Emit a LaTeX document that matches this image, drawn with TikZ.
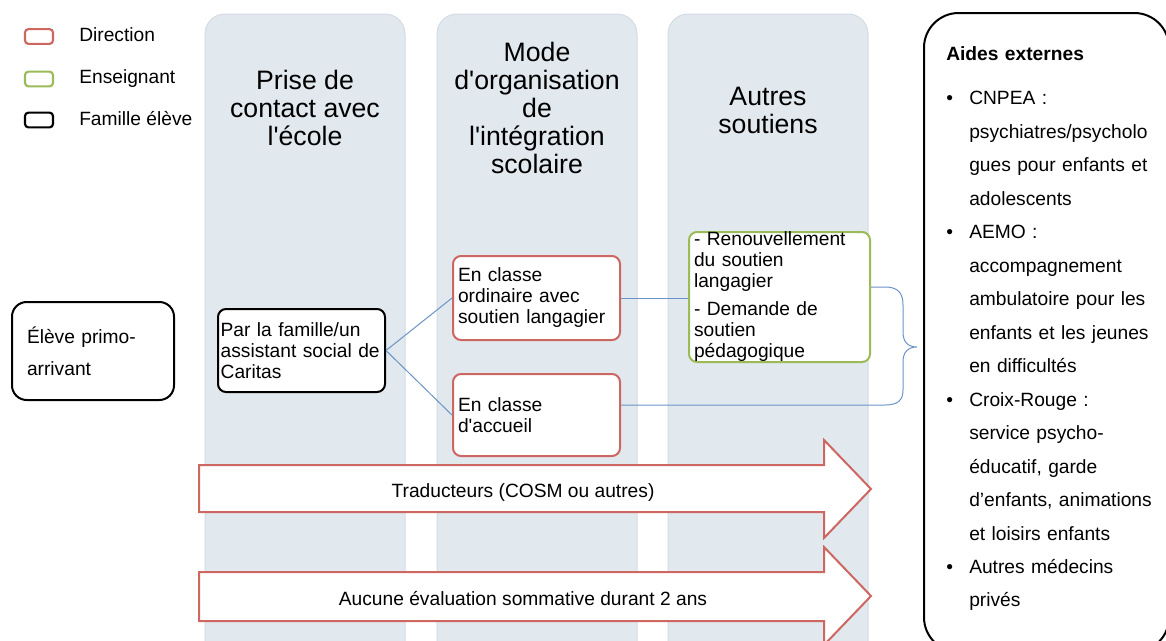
\documentclass[tikz,border=0pt]{standalone}
\usepackage{fontspec}
\setmainfont{Liberation Sans}
\usepackage{tikz}
\definecolor{colonne}{HTML}{E1E8EE}
\definecolor{bordcolonne}{HTML}{D4DBE2}
\definecolor{rougeDir}{HTML}{CD6762}
\definecolor{vertEns}{HTML}{9BBB59}
\definecolor{bleuLien}{HTML}{6A94C6}
\tikzstyle{texte}=[inner sep=0pt, font=\fontsize{14.4}{15.75}\selectfont]
\tikzstyle{titre}=[inner sep=0pt, align=center, font=\fontsize{20}{21}\selectfont]
\tikzstyle{legende}=[rectangle, rounded corners=2.5pt, line width=1.6pt,
                     minimum width=21pt, minimum height=11pt, inner sep=0pt]
\tikzstyle{boite}=[rectangle, rounded corners=6pt, line width=1.5pt, fill=white,
                   align=left, inner ysep=0pt, font=\fontsize{14.4}{15.75}\selectfont]
\tikzstyle{boitefam}=[boite, draw=black]
\tikzstyle{boitedir}=[boite, draw=rougeDir]
\tikzstyle{boiteens}=[boite, draw=vertEns]
\tikzstyle{colonnebox}=[fill=colonne, draw=bordcolonne, line width=0.75pt, rounded corners=15pt]
\tikzstyle{fleche}=[draw=rougeDir, fill=white, line width=1.5pt, line join=miter]
\tikzstyle{lien}=[draw=bleuLien, line width=0.75pt]
\newcommand{\apo}{\textquotesingle}
\newcommand{\puce}{\makebox[17.25pt][l]{\textbullet}}
\newcommand{\retrait}{\hspace*{17.25pt}}

\begin{document}
\begin{tikzpicture}[x=0.75pt,y=-0.75pt]
  \useasboundingbox (0,0) rectangle (1166,640);
  \foreach \cx in {205,437,668}
    \draw[colonnebox] (\cx,14) rectangle ++(200,680);

  \node[legende, draw=rougeDir] (legDir) at (39,36.5) {};
  \node[legende, draw=vertEns] (legEns) at (39,79) {};
  \node[legende, draw=black] (legFam) at (39,120) {};
  \node[texte, anchor=base west] (txtDir) at (79,41) {Direction};
  \node[texte, anchor=base west] (txtEns) at (79,83) {Enseignant};
  \node[texte, anchor=base west] (txtFam) at (79,125) {Famille élève};

  \node[titre] (titrePrise) at (305,108) {Prise de\\contact avec\\l\apo école};
  \node[titre] (titreMode) at (537,108) {Mode\\d\apo organisation\\de\\l\apo intégration\\scolaire};
  \node[titre] (titreAutres) at (768,110) {Autres\\soutiens};

  \draw[fleche] (199,465) -- (824,465) -- (824,440) -- (871,489) -- (824,538) -- (824,512) -- (199,512) -- cycle;
  \node[texte, anchor=base] (traducteurs) at (523,497) {Traducteurs (COSM ou autres)};
  \draw[fleche] (199,572) -- (824,572) -- (824,547) -- (871,596) -- (824,645) -- (824,621) -- (199,621) -- cycle;
  \node[texte, anchor=base] (evaluation) at (523,605) {Aucune évaluation sommative durant 2 ans};

  \node[boitefam, rounded corners=11pt, minimum width=121.5pt, minimum height=73.5pt,
        inner xsep=11.25pt, text width=99pt, font=\fontsize{14.4}{24}\selectfont]
    (eleve) at (93,351) {Élève primo-\\arrivant};
  \node[boitefam, minimum width=125.25pt, minimum height=62.25pt, inner xsep=2pt, text width=121.25pt]
    (par) at (301.5,350.5) {Par la famille/un\\\mbox{assistant social de}\\Caritas};
  \node[boitedir, minimum width=125.25pt, minimum height=63pt, inner xsep=3.75pt, text width=117.75pt]
    (ordinaire) at (536.5,298) {En classe\\ordinaire avec\\soutien langagier};
  \node[boitedir, minimum width=125.25pt, minimum height=61.5pt, inner xsep=3.75pt, text width=117.75pt]
    (accueil) at (536.5,415) {En classe\\d\apo accueil};
  \node[boiteens, minimum width=135.75pt, minimum height=97.5pt, inner xsep=3.75pt, text width=128.25pt]
    (soutiens) at (779.5,297) {- Renouvellement\\du soutien\\langagier\\[5.25pt]- Demande de\\soutien\\pédagogique};

  \coordinate (braceHaut) at (885,287);
  \coordinate (braceBas) at (885,405);
  \draw[lien] (par.east) -- (ordinaire.west);
  \draw[lien] (par.east) -- (accueil.west);
  \draw[lien] (ordinaire.east) -- (ordinaire.east -| soutiens.west);
  \draw[lien] (accueil.east |- braceBas) -- (braceBas)
    .. controls (898,405) and (903,400) .. (903,390) -- (903,362)
    .. controls (903,352) and (908,347) .. (917,347)
    .. controls (908,347) and (903,342) .. (903,332) -- (903,305)
    .. controls (903,293) and (898,287) .. (braceHaut) -- (soutiens.east |- braceHaut);

  \draw[line width=1.5pt, rounded corners=26pt] (924,13) rectangle (1169,652);
  \node[texte, anchor=base west, align=left, text width=165pt, font=\fontsize{14.4}{25.1}\selectfont]
    (aides) at (946,60) {\textbf{Aides externes}\\[8.6pt]
      \puce CNPEA :\\
      \retrait psychiatres/psycholo\\
      \retrait gues pour enfants et\\
      \retrait adolescents\\
      \puce AEMO :\\
      \retrait accompagnement\\
      \retrait ambulatoire pour les\\
      \retrait enfants et les jeunes\\
      \retrait en difficultés\\
      \puce Croix-Rouge :\\
      \retrait service psycho-\\
      \retrait éducatif, garde\\
      \retrait d’enfants, animations\\
      \retrait et loisirs enfants\\
      \puce Autres médecins\\
      \retrait privés};
\end{tikzpicture}
\end{document}
